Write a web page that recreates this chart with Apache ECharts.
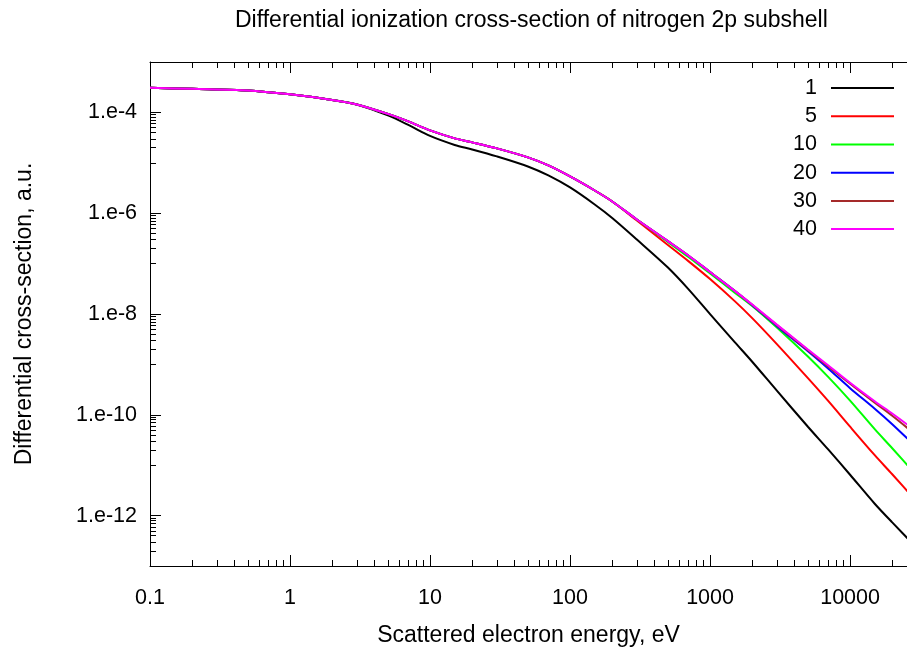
<!DOCTYPE html>
<html>
<head>
<meta charset="utf-8">
<script src="https://cdn.jsdelivr.net/npm/echarts@6/dist/echarts.min.js"></script>
<style>
  html, body { margin: 0; padding: 0; background: #ffffff; }
  #chart { width: 907px; height: 652px; }
</style>
</head>
<body>
<div id="chart"></div>
<script>
// Scattered electron energy grid, eV
const energy = [0.1, 0.2, 0.5, 1, 2, 3, 5, 7, 10, 15, 20, 30, 50, 70, 100, 150, 200, 300,
                500, 700, 1000, 1500, 2000, 3000, 5000, 7000, 10000, 15000, 20000, 30000];

// Differential cross-sections (a.u.) for each curve label
const sigma1  = [3.07e-4, 2.93e-4, 2.73e-4, 2.28e-4, 1.77e-4, 1.44e-4, 8.72e-5, 5.64e-5, 3.41e-5, 2.26e-5, 1.84e-5, 1.34e-5, 8.46e-6, 5.61e-6, 3.24e-6, 1.49e-6, 8.03e-7, 3.00e-7,
                 8.35e-8, 3.12e-8, 9.95e-9, 2.77e-9, 1.13e-9, 3.01e-10, 5.80e-11, 2.03e-11, 6.46e-12, 1.72e-12, 7.33e-13, 2.29e-13];
const sigma5  = [3.07e-4, 2.93e-4, 2.73e-4, 2.28e-4, 1.77e-4, 1.44e-4, 9.34e-5, 6.63e-5, 4.39e-5, 3.05e-5, 2.54e-5, 1.93e-5, 1.28e-5, 8.86e-6, 5.36e-6, 2.82e-6, 1.71e-6, 7.16e-7,
                 2.34e-7, 1.12e-7, 4.93e-8, 1.80e-8, 8.29e-9, 2.53e-9, 5.33e-10, 1.86e-10, 5.80e-11, 1.58e-11, 6.61e-12, 1.88e-12];
const sigma10 = [3.07e-4, 2.93e-4, 2.73e-4, 2.28e-4, 1.77e-4, 1.44e-4, 9.34e-5, 6.63e-5, 4.39e-5, 3.05e-5, 2.54e-5, 1.93e-5, 1.28e-5, 8.86e-6, 5.36e-6, 2.82e-6, 1.71e-6, 7.50e-7,
                 2.68e-7, 1.35e-7, 6.34e-8, 2.66e-8, 1.44e-8, 5.37e-9, 1.43e-9, 5.58e-10, 1.91e-10, 5.18e-11, 2.17e-11, 6.17e-12];
const sigma20 = [3.07e-4, 2.93e-4, 2.73e-4, 2.28e-4, 1.77e-4, 1.44e-4, 9.34e-5, 6.63e-5, 4.39e-5, 3.05e-5, 2.54e-5, 1.93e-5, 1.28e-5, 8.86e-6, 5.36e-6, 2.82e-6, 1.71e-6, 7.50e-7,
                 2.80e-7, 1.45e-7, 6.80e-8, 2.88e-8, 1.50e-8, 5.75e-9, 1.83e-9, 8.23e-10, 3.38e-10, 1.32e-10, 6.50e-11, 2.22e-11];
const sigma30 = [3.07e-4, 2.93e-4, 2.73e-4, 2.28e-4, 1.77e-4, 1.44e-4, 9.34e-5, 6.63e-5, 4.39e-5, 3.05e-5, 2.54e-5, 1.93e-5, 1.28e-5, 8.86e-6, 5.36e-6, 2.82e-6, 1.71e-6, 7.50e-7,
                 2.80e-7, 1.45e-7, 6.80e-8, 2.88e-8, 1.52e-8, 6.02e-9, 1.92e-9, 9.02e-10, 4.15e-10, 1.74e-10, 9.60e-11, 3.85e-11];
const sigma40 = [3.07e-4, 2.93e-4, 2.73e-4, 2.28e-4, 1.77e-4, 1.44e-4, 9.34e-5, 6.63e-5, 4.39e-5, 3.05e-5, 2.54e-5, 1.93e-5, 1.28e-5, 8.86e-6, 5.36e-6, 2.82e-6, 1.71e-6, 7.50e-7,
                 2.80e-7, 1.45e-7, 6.80e-8, 2.88e-8, 1.54e-8, 6.16e-9, 1.98e-9, 9.53e-10, 4.34e-10, 1.86e-10, 1.06e-10, 4.62e-11];

const seriesNames = ['1', '5', '10', '20', '30', '40'];
const seriesValues = [sigma1, sigma5, sigma10, sigma20, sigma30, sigma40];
const seriesColors = ['#000000', '#ff0000', '#00ff00', '#0000ff', '#a52a2a', '#ff00ff'];

// Axis tick positions and their labels
const xTickValues = [0.1, 1, 10, 100, 1000, 10000];
const xTickLabels = ['0.1', '1', '10', '100', '1000', '10000'];
const yTickValues = [1e-12, 1e-10, 1e-8, 1e-6, 1e-4];
const yTickLabels = ['1.e-12', '1.e-10', '1.e-8', '1.e-6', '1.e-4'];

// x range runs past the right edge of the canvas
const X_MIN = 0.1, X_MAX = 25500, Y_MIN = 1e-13, Y_MAX = 1e-3;

// minor ticks: 2..9 x 10^k inside every decade of x
const xMinor = [];
for (let e = -1; e <= 4; e++) {
  for (let k = 2; k <= 9; k++) {
    const v = k * Math.pow(10, e);
    if (v < X_MAX) xMinor.push(v);
  }
}
// minor ticks on y: 1..9 x 10^k in the decade below each labelled power
const yMinor = [];
for (const major of yTickValues) {
  for (let k = 1; k <= 9; k++) yMinor.push(k * major / 10);
}

const FONT = 'Liberation Sans';

function labelFor(values, labels) {
  return function (v) {
    let best = 0, bestD = Infinity;
    values.forEach(function (t, i) {
      const d = Math.abs(Math.log10(t) - Math.log10(v));
      if (d < bestD) { bestD = d; best = i; }
    });
    return bestD < 1e-6 ? labels[best] : '';
  };
}

function xAxisDef(position, ticks, len, showLine, showLabel) {
  return {
    type: 'log', logBase: 10, min: X_MIN, max: X_MAX, position: position,
    axisLine: { show: showLine, onZero: false, lineStyle: { color: '#000', width: 1 } },
    axisTick: { show: true, inside: true, length: len, customValues: ticks,
                lineStyle: { color: '#000', width: 1 } },
    axisLabel: showLabel ? {
      show: true, customValues: xTickValues, formatter: labelFor(xTickValues, xTickLabels),
      margin: 21, fontSize: 21.5, fontFamily: FONT, color: '#000'
    } : { show: false },
    splitLine: { show: false }, minorTick: { show: false }
  };
}

function yAxisDef(ticks, len, showLine, showLabel) {
  return {
    type: 'log', logBase: 10, min: Y_MIN, max: Y_MAX, position: 'left',
    axisLine: { show: showLine, onZero: false, lineStyle: { color: '#000', width: 1 } },
    axisTick: { show: true, inside: true, length: len, customValues: ticks,
                lineStyle: { color: '#000', width: 1 } },
    axisLabel: showLabel ? {
      show: true, customValues: yTickValues, formatter: labelFor(yTickValues, yTickLabels),
      margin: 13, padding: [4, 0, 0, 0], fontSize: 21.5, fontFamily: FONT, color: '#000'
    } : { show: false },
    splitLine: { show: false }, minorTick: { show: false }
  };
}

const xAxes = [
  xAxisDef('bottom', xTickValues, 11, true, true),
  xAxisDef('bottom', xMinor, 6, false, false),
  xAxisDef('top', xTickValues, 11, true, false),
  xAxisDef('top', xMinor, 6, false, false)
];
xAxes[0].name = 'Scattered electron energy, eV';
xAxes[0].nameLocation = 'middle';
xAxes[0].nameGap = 58;
xAxes[0].nameTextStyle = { fontSize: 23, fontFamily: FONT, color: '#000' };

const yAxes = [
  yAxisDef(yTickValues, 11, true, true),
  yAxisDef(yMinor, 6, false, false)
];
yAxes[0].name = 'Differential cross-section, a.u.';
yAxes[0].nameLocation = 'middle';
yAxes[0].nameGap = 114;
yAxes[0].nameTextStyle = { fontSize: 23, fontFamily: FONT, color: '#000' };

const series = seriesNames.map(function (name, i) {
  return {
    name: name,
    type: 'line',
    xAxisIndex: 0,
    yAxisIndex: 0,
    data: energy.map(function (e, j) { return [e, seriesValues[i][j]]; }),
    showSymbol: false,
    smooth: 0.3,
    clip: true,
    lineStyle: { color: seriesColors[i], width: 2 },
    itemStyle: { color: seriesColors[i] },
    emphasis: { disabled: true },
    z: 2 + i
  };
});

const chart = echarts.init(document.getElementById('chart'), null, { renderer: 'canvas' });
chart.setOption({
  animation: false,
  backgroundColor: '#ffffff',
  title: {
    text: 'Differential ionization cross-section of nitrogen 2p subshell',
    left: 235, top: 9, padding: 0,
    textStyle: { fontSize: 23, fontWeight: 'normal', fontFamily: FONT, color: '#000' }
  },
  legend: {
    orient: 'vertical',
    right: 13, top: 74,
    padding: 0,
    itemGap: 0,
    align: 'right',
    icon: 'rect',
    itemWidth: 63,
    itemHeight: 2,
    selectedMode: false,
    textStyle: { fontSize: 21.5, fontFamily: FONT, color: '#000', lineHeight: 28.2, padding: [0, 9, 0, 0] },
    data: seriesNames
  },
  grid: { left: 150, right: 0, top: 62, bottom: 85, containLabel: false },
  xAxis: xAxes,
  yAxis: yAxes,
  series: series
});
</script>
</body>
</html>
